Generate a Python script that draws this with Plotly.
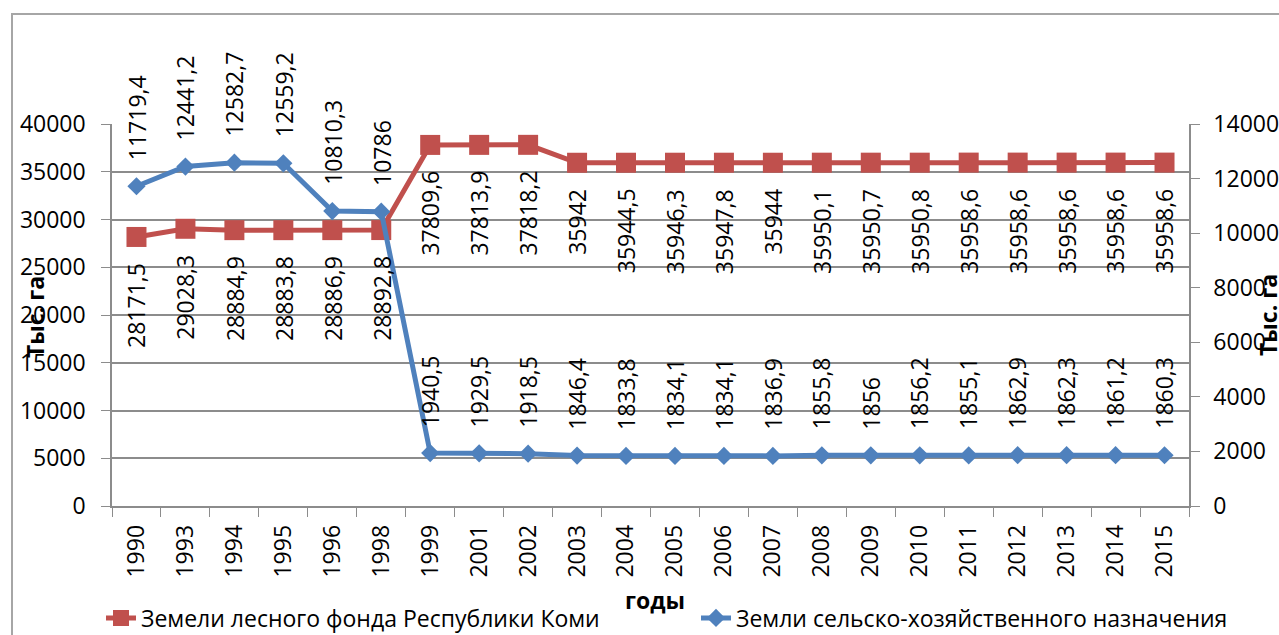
import plotly.graph_objects as go

years = ["1990", "1993", "1994", "1995", "1996", "1998", "1999", "2001", "2002", "2003", "2004",
         "2005", "2006", "2007", "2008", "2009", "2010", "2011", "2012", "2013", "2014", "2015"]
forest = [28171.5, 29028.3, 28884.9, 28883.8, 28886.9, 28892.8, 37809.6, 37813.9, 37818.2, 35942,
          35944.5, 35946.3, 35947.8, 35944, 35950.1, 35950.7, 35950.8, 35958.6, 35958.6, 35958.6,
          35958.6, 35958.6]
agri = [11719.4, 12441.2, 12582.7, 12559.2, 10810.3, 10786, 1940.5, 1929.5, 1918.5, 1846.4,
        1833.8, 1834.1, 1834.1, 1836.9, 1855.8, 1856, 1856.2, 1855.1, 1862.9, 1862.3, 1861.2, 1860.3]

name_forest = "Земели лесного фонда Республики Коми"
name_agri = "Земли сельско-хозяйственного назначения"
y_title = "Тыс. га"
x_title = "годы"

RED = "#C0504D"
BLUE = "#4F81BD"
GRID = "#8c8c8c"
FONT = "Open Sans"
FS = 23

W, H = 1279, 635
# plot area in screen pixels: x 112..1189, y 124..506
ML = 112
MR = W - 1189
MT = 124
MB = H - 506
PW, PH = W - ML - MR, H - MT - MB


def fmt(v):
    if float(v).is_integer():
        return str(int(v))
    return ("%.1f" % v).replace(".", ",")


def px_x(p):
    return (p - ML) / PW


def px_y(p):
    return (H - MB - p) / PH


fig = go.Figure()
fig.add_trace(go.Scatter(x=years, y=forest, name=name_forest, mode="lines+markers",
                         line=dict(color=RED, width=5),
                         marker=dict(symbol="square", size=20, color=RED),
                         yaxis="y", legend="legend"))
fig.add_trace(go.Scatter(x=years, y=agri, name=name_agri, mode="lines+markers",
                         line=dict(color=BLUE, width=5),
                         marker=dict(symbol="diamond", size=14, color=BLUE),
                         yaxis="y2", legend="legend2"))

annotations = []
for i, v in enumerate(forest):
    annotations.append(dict(x=i, y=v, xref="x", yref="y", text=fmt(v), showarrow=False,
                            textangle=-90, yanchor="top", xanchor="center", yshift=-24,
                            font=dict(family=FONT, size=FS, color="black")))
for i, v in enumerate(agri):
    annotations.append(dict(x=i, y=v, xref="x", yref="y2", text=fmt(v), showarrow=False,
                            textangle=-90, yanchor="bottom", xanchor="center", yshift=24,
                            font=dict(family=FONT, size=FS, color="black")))

annotations.append(dict(x=px_x(35), y=px_y(317), xref="paper", yref="paper", text="<b>" + y_title + "</b>",
                        showarrow=False, textangle=-90, xanchor="center", yanchor="middle",
                        font=dict(family=FONT, size=FS, color="black")))
annotations.append(dict(x=px_x(1268), y=px_y(315), xref="paper", yref="paper", text="<b>" + y_title + "</b>",
                        showarrow=False, textangle=-90, xanchor="center", yanchor="middle",
                        font=dict(family=FONT, size=FS, color="black")))
annotations.append(dict(x=px_x(655), y=px_y(600), xref="paper", yref="paper", text="<b>" + x_title + "</b>",
                        showarrow=False, xanchor="center", yanchor="middle",
                        font=dict(family=FONT, size=FS, color="black")))

shapes = [dict(type="rect", xref="paper", yref="paper",
               x0=px_x(12), x1=px_x(1320), y0=px_y(680), y1=px_y(14),
               line=dict(color="#a6a6a6", width=2), fillcolor="rgba(0,0,0,0)", layer="below")]

legend_common = dict(orientation="h", xanchor="left", yanchor="middle",
                     font=dict(family=FONT, size=FS, color="black"), bgcolor="rgba(0,0,0,0)")

fig.update_layout(
    width=W, height=H,
    margin=dict(l=ML, r=MR, t=MT, b=MB, autoexpand=False),
    paper_bgcolor="white", plot_bgcolor="white",
    font=dict(family=FONT, size=FS, color="black"),
    showlegend=True,
    legend=dict(x=px_x(101), y=px_y(618), **legend_common),
    legend2=dict(x=px_x(696), y=px_y(618), **legend_common),
    xaxis=dict(type="category", range=[-0.5, len(years) - 0.5], tickangle=-90,
               tickson="boundaries", ticks="outside", ticklen=9, tickcolor=GRID,
               showline=True, linecolor=GRID, linewidth=1.5, showgrid=False, zeroline=False,
               automargin=False, ticklabelstandoff=8, tickfont=dict(family=FONT, size=FS)),
    yaxis=dict(range=[0, 40000], dtick=5000, ticks="outside", ticklen=9, tickcolor=GRID,
               showline=True, linecolor=GRID, linewidth=1.5, showgrid=True, gridcolor=GRID,
               gridwidth=1.5, zeroline=False, automargin=False, tickformat="d",
               ticklabelstandoff=11, tickfont=dict(family=FONT, size=FS)),
    yaxis2=dict(range=[0, 14000], dtick=2000, overlaying="y", side="right", ticks="outside",
                ticklen=9, tickcolor=GRID, showline=True, linecolor=GRID, linewidth=1.5,
                showgrid=False, zeroline=False, automargin=False, tickformat="d",
                ticklabelstandoff=9, tickfont=dict(family=FONT, size=FS)),
    annotations=annotations,
    shapes=shapes,
)

fig.write_html("out.html",
               config={"displayModeBar": False},
               post_script="document.body.style.margin='0';document.body.style.overflow='hidden';")
